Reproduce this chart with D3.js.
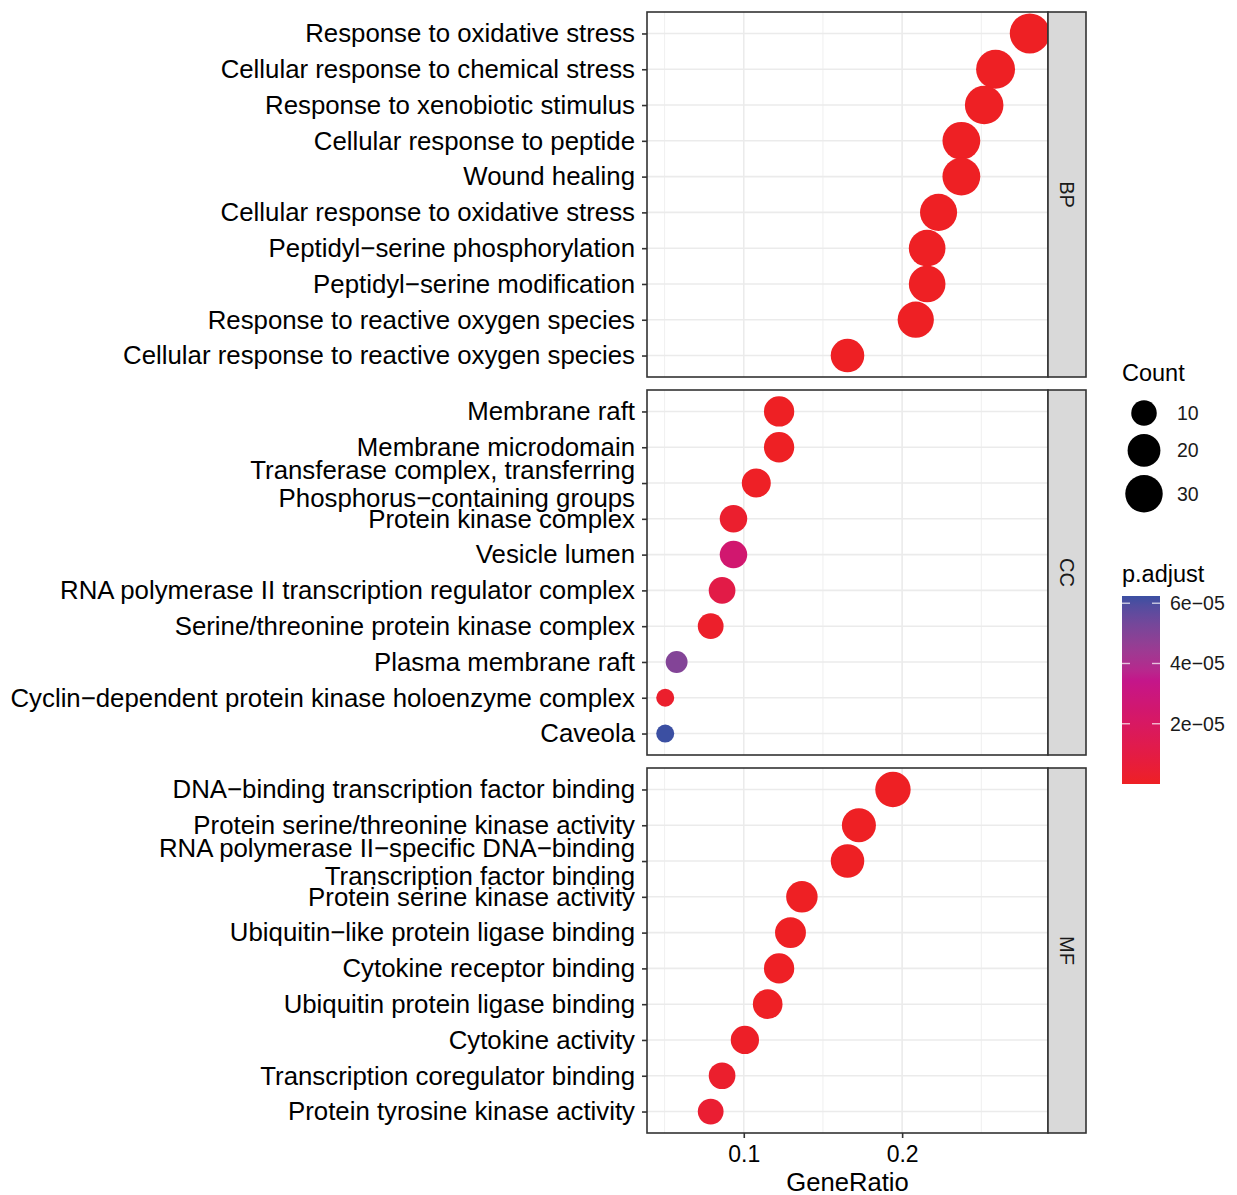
<!DOCTYPE html>
<html>
<head>
<meta charset="utf-8">
<script src="https://cdn.jsdelivr.net/npm/d3@7"></script>
<style>
  body { margin: 0; background: #fff; }
  svg { display: block; font-family: "Liberation Sans", Arial, sans-serif; }
</style>
</head>
<body>
<div id="chart"></div>
<script>
// --- data ---
const bpTerms = [
  'Response to oxidative stress',
  'Cellular response to chemical stress',
  'Response to xenobiotic stimulus',
  'Cellular response to peptide',
  'Wound healing',
  'Cellular response to oxidative stress',
  'Peptidyl\u2212serine phosphorylation',
  'Peptidyl\u2212serine modification',
  'Response to reactive oxygen species',
  'Cellular response to reactive oxygen species'
];
const bpRatio = [0.2806, 0.2590, 0.2518, 0.2374, 0.2374, 0.2230, 0.2158, 0.2158, 0.2086, 0.1655];
const bpCount = [39, 36, 35, 33, 33, 31, 30, 30, 29, 23];
const bpPadj = [2.1e-13, 4.5e-12, 8.0e-12, 3.2e-11, 5.6e-11, 1.4e-10, 2.7e-10, 4.1e-10, 6.3e-10, 2.2e-8];

const ccTerms = [
  'Membrane raft',
  'Membrane microdomain',
  'Transferase complex, transferring\nPhosphorus\u2212containing groups',
  'Protein kinase complex',
  'Vesicle lumen',
  'RNA polymerase II transcription regulator complex',
  'Serine/threonine protein kinase complex',
  'Plasma membrane raft',
  'Cyclin\u2212dependent protein kinase holoenzyme complex',
  'Caveola'
];
const ccRatio = [0.1223, 0.1223, 0.1079, 0.0935, 0.0935, 0.0863, 0.0791, 0.0576, 0.0504, 0.0504];
const ccCount = [17, 17, 15, 13, 13, 12, 11, 8, 7, 7];
const ccPadj = [3.1e-8, 3.4e-8, 4.2e-7, 2.9e-6, 2.5e-5, 1.1e-5, 1.8e-6, 5.0e-5, 2.5e-6, 6.24e-5];

const mfTerms = [
  'DNA\u2212binding transcription factor binding',
  'Protein serine/threonine kinase activity',
  'RNA polymerase II\u2212specific DNA\u2212binding\nTranscription factor binding',
  'Protein serine kinase activity',
  'Ubiquitin\u2212like protein ligase binding',
  'Cytokine receptor binding',
  'Ubiquitin protein ligase binding',
  'Cytokine activity',
  'Transcription coregulator binding',
  'Protein tyrosine kinase activity'
];
const mfRatio = [0.1942, 0.1727, 0.1655, 0.1367, 0.1295, 0.1223, 0.1151, 0.1007, 0.0863, 0.0791];
const mfCount = [27, 24, 23, 19, 18, 17, 16, 14, 12, 11];
const mfPadj = [1.2e-10, 3.3e-9, 5.1e-9, 6.4e-8, 9.8e-8, 2.0e-7, 3.5e-7, 1.1e-6, 2.6e-6, 4.0e-6];

const countBreaks = [10, 20, 30];
const padjBreaks = [2e-5, 4e-5, 6e-5];

// --- layout ---
const width = 1237, height = 1195;
const panelLeft = 647, panelRight = 1048, stripW = 38;
const panelH = 365, panelGap = 13, panelTop0 = 12;
const labelFont = 25.8;

const panels = [
  { name: 'BP', terms: bpTerms, ratio: bpRatio, count: bpCount, padj: bpPadj },
  { name: 'CC', terms: ccTerms, ratio: ccRatio, count: ccCount, padj: ccPadj },
  { name: 'MF', terms: mfTerms, ratio: mfRatio, count: mfCount, padj: mfPadj }
];

const allRatio = [...bpRatio, ...ccRatio, ...mfRatio];
const allCount = [...bpCount, ...ccCount, ...mfCount];
const allPadj = [...bpPadj, ...ccPadj, ...mfPadj];

const svg = d3.select('#chart')
  .append('svg')
  .attr('width', width)
  .attr('height', height);

// scales
const [rMin, rMax] = d3.extent(allRatio);
const pad = (rMax - rMin) * 0.05;
const x = d3.scaleLinear()
  .domain([rMin - pad, rMax + pad])
  .range([panelLeft, panelRight]);

const [cMin, cMax] = d3.extent(allCount);
const rScale = d3.scaleSqrt().domain([0, cMax - cMin]).range([9, 20]);
const radius = c => rScale(Math.max(0, c - cMin));

const [pMin, pMax] = d3.extent(allPadj);
const color = d3.scaleLinear()
  .domain([pMin, pMin + (pMax - pMin) * 0.55, pMax])
  .range(['#ee2024', '#c4168a', '#3b4fa2'])
  .interpolate(d3.interpolateLab);

const majorX = [0.1, 0.2];
const minorX = [0.05, 0.15, 0.25];

panels.forEach((p, i) => {
  const top = panelTop0 + i * (panelH + panelGap);
  const y = d3.scalePoint()
    .domain(p.terms)
    .range([top, top + panelH])
    .padding(0.6);

  const g = svg.append('g');

  // background + grid
  g.append('rect')
    .attr('x', panelLeft).attr('y', top)
    .attr('width', panelRight - panelLeft).attr('height', panelH)
    .attr('fill', '#fff');

  g.selectAll('.minor')
    .data(minorX)
    .join('line')
    .attr('x1', d => x(d)).attr('x2', d => x(d))
    .attr('y1', top).attr('y2', top + panelH)
    .attr('stroke', '#ebebeb').attr('stroke-width', 0.8);

  g.selectAll('.major')
    .data(majorX)
    .join('line')
    .attr('x1', d => x(d)).attr('x2', d => x(d))
    .attr('y1', top).attr('y2', top + panelH)
    .attr('stroke', '#ebebeb').attr('stroke-width', 1.6);

  g.selectAll('.hgrid')
    .data(p.terms)
    .join('line')
    .attr('x1', panelLeft).attr('x2', panelRight)
    .attr('y1', d => y(d)).attr('y2', d => y(d))
    .attr('stroke', '#ebebeb').attr('stroke-width', 1.6);

  // points (clipped to panel)
  const clipId = 'clip-' + p.name;
  svg.append('clipPath').attr('id', clipId)
    .append('rect')
    .attr('x', panelLeft).attr('y', top)
    .attr('width', panelRight - panelLeft).attr('height', panelH);

  const rows = p.terms.map((t, j) => ({ term: t, ratio: p.ratio[j], count: p.count[j], padj: p.padj[j] }));

  g.append('g')
    .attr('clip-path', `url(#${clipId})`)
    .selectAll('circle')
    .data(rows)
    .join('circle')
    .attr('cx', d => x(d.ratio))
    .attr('cy', d => y(d.term))
    .attr('r', d => radius(d.count))
    .attr('fill', d => color(d.padj));

  // panel border
  g.append('rect')
    .attr('x', panelLeft).attr('y', top)
    .attr('width', panelRight - panelLeft).attr('height', panelH)
    .attr('fill', 'none').attr('stroke', '#333').attr('stroke-width', 1.6);

  // strip
  g.append('rect')
    .attr('x', panelRight).attr('y', top)
    .attr('width', stripW).attr('height', panelH)
    .attr('fill', '#d9d9d9').attr('stroke', '#333').attr('stroke-width', 1.6);

  g.append('text')
    .attr('transform', `translate(${panelRight + stripW / 2},${top + panelH / 2}) rotate(90)`)
    .attr('text-anchor', 'middle')
    .attr('dy', '0.35em')
    .attr('font-size', 20)
    .attr('fill', '#1a1a1a')
    .text(p.name);

  // y axis
  const yAxis = g.append('g')
    .attr('transform', `translate(${panelLeft},0)`)
    .call(d3.axisLeft(y).tickSize(5).tickPadding(7));
  yAxis.select('.domain').remove();
  yAxis.selectAll('.tick line').attr('stroke', '#333').attr('stroke-width', 1.6);
  yAxis.selectAll('.tick text')
    .attr('font-size', labelFont)
    .attr('font-family', '"Liberation Sans", Arial, sans-serif')
    .attr('fill', '#000')
    .each(function (d) {
      const lines = d.split('\n');
      if (lines.length === 1) return;
      const t = d3.select(this).text('').attr('dy', null);
      lines.forEach((ln, k) => {
        t.append('tspan')
          .attr('x', -12)
          .attr('y', (k - (lines.length - 1) / 2) * 28)
          .attr('dy', '0.35em')
          .text(ln);
      });
    });

  if (i === panels.length - 1) {
    const xAxis = g.append('g')
      .attr('transform', `translate(0,${top + panelH})`)
      .call(d3.axisBottom(x).tickValues(majorX).tickSize(5).tickPadding(8).tickFormat(d3.format('.1f')));
    xAxis.select('.domain').remove();
    xAxis.selectAll('.tick line').attr('stroke', '#333').attr('stroke-width', 1.6);
    xAxis.selectAll('.tick text')
      .attr('font-size', 23)
      .attr('font-family', '"Liberation Sans", Arial, sans-serif')
      .attr('fill', '#000');

    svg.append('text')
      .attr('x', (panelLeft + panelRight) / 2)
      .attr('y', top + panelH + 58)
      .attr('text-anchor', 'middle')
      .attr('font-size', 25.6)
      .attr('fill', '#000')
      .text('GeneRatio');
  }
});

// --- legends ---
const legX = 1122;

svg.append('text')
  .attr('x', legX).attr('y', 381)
  .attr('font-size', 23.5)
  .attr('fill', '#000')
  .text('Count');

let ly = 413;
const keyY = countBreaks.map((c, k) => {
  if (k > 0) ly += radius(countBreaks[k - 1]) + radius(c) + 9;
  return ly;
});

const countLeg = svg.append('g');
countLeg.selectAll('circle')
  .data(countBreaks)
  .join('circle')
  .attr('cx', 1144)
  .attr('cy', (d, k) => keyY[k])
  .attr('r', d => radius(d) + 0.4)
  .attr('fill', '#000');
countLeg.selectAll('text')
  .data(countBreaks)
  .join('text')
  .attr('x', 1177)
  .attr('y', (d, k) => keyY[k])
  .attr('dy', '0.35em')
  .attr('font-size', 19.5)
  .attr('fill', '#1a1a1a')
  .text(d => d);

svg.append('text')
  .attr('x', legX).attr('y', 582)
  .attr('font-size', 23.5)
  .attr('fill', '#000')
  .text('p.adjust');

const barTop = 596, barBottom = 784, barX = 1122, barW = 38;
const barY = d3.scaleLinear().domain([pMin, pMax]).range([barBottom, barTop]);

const grad = svg.append('defs').append('linearGradient')
  .attr('id', 'padj-grad')
  .attr('x1', 0).attr('y1', 1).attr('x2', 0).attr('y2', 0);
grad.selectAll('stop')
  .data(d3.range(0, 1.0001, 0.05))
  .join('stop')
  .attr('offset', d => d)
  .attr('stop-color', d => color(pMin + d * (pMax - pMin)));

svg.append('rect')
  .attr('x', barX).attr('y', barTop)
  .attr('width', barW).attr('height', barBottom - barTop)
  .attr('fill', 'url(#padj-grad)');

const barTicks = svg.append('g');
barTicks.selectAll('.tl')
  .data(padjBreaks)
  .join('line')
  .attr('x1', barX).attr('x2', barX + 8)
  .attr('y1', d => barY(d)).attr('y2', d => barY(d))
  .attr('stroke', '#fff').attr('stroke-opacity', 0.7).attr('stroke-width', 1.4);
barTicks.selectAll('.tr')
  .data(padjBreaks)
  .join('line')
  .attr('x1', barX + barW - 8).attr('x2', barX + barW)
  .attr('y1', d => barY(d)).attr('y2', d => barY(d))
  .attr('stroke', '#fff').attr('stroke-opacity', 0.7).attr('stroke-width', 1.4);
barTicks.selectAll('text')
  .data(padjBreaks)
  .join('text')
  .attr('x', 1170)
  .attr('y', d => barY(d))
  .attr('dy', '0.35em')
  .attr('font-size', 19.5)
  .attr('fill', '#1a1a1a')
  .text(d => d3.format('.0e')(d).replace('e-', 'e\u22120').replace('e\u221200', 'e\u22120'));
</script>
</body>
</html>
